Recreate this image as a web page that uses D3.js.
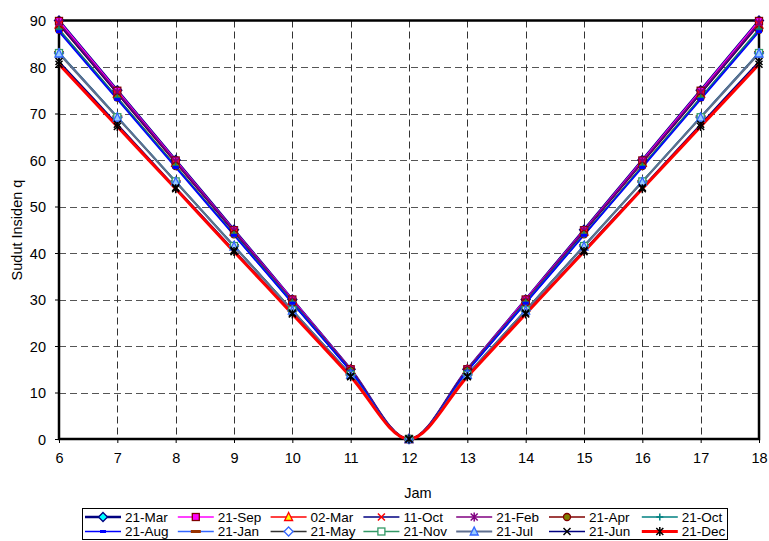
<!DOCTYPE html>
<html><head><meta charset="utf-8">
<script src="https://cdn.jsdelivr.net/npm/d3@7"></script>
<style>
html,body{margin:0;padding:0;background:#fff;}
svg{display:block;font-family:"Liberation Sans",Arial,sans-serif;}
</style></head>
<body><svg id="c" width="769" height="541"></svg>
<script>
const hours = [6,7,8,9,10,11,12,13,14,15,16,17,18];
const yTicks = [0,10,20,30,40,50,60,70,80,90];
const seriesNames = ["21-Mar","21-Sep","02-Mar","11-Oct","21-Feb","21-Apr","21-Oct","21-Aug","21-Jan","21-May","21-Nov","21-Jul","21-Jun","21-Dec"];
const mar21 = [90,75,60,45,30,15,0,15,30,45,60,75,90];
const sep21 = [89.9,74.9,59.9,44.9,30,15,0,15,30,44.9,59.9,74.9,89.9];
const mar02 = [89.1,74.3,59.4,44.6,29.7,14.9,0,14.9,29.7,44.6,59.4,74.3,89.1];
const oct11 = [89.2,74.3,59.5,44.6,29.7,14.9,0,14.9,29.7,44.6,59.5,74.3,89.2];
const feb21 = [89.5,74.6,59.7,44.8,29.8,14.9,0,14.9,29.8,44.8,59.7,74.6,89.5];
const apr21 = [88.0,73.4,58.7,44.0,29.3,14.7,0,14.7,29.3,44.0,58.7,73.4,88.0];
const oct21 = [88.1,73.4,58.7,44.0,29.4,14.7,0,14.7,29.4,44.0,58.7,73.4,88.1];
const aug21 = [87.6,73.0,58.4,43.8,29.2,14.6,0,14.6,29.2,43.8,58.4,73.0,87.6];
const jan21 = [83.1,69.3,55.4,41.6,27.7,13.9,0,13.9,27.7,41.6,55.4,69.3,83.1];
const may21 = [83.0,69.2,55.3,41.5,27.7,13.8,0,13.8,27.7,41.5,55.3,69.2,83.0];
const nov21 = [83.0,69.2,55.4,41.5,27.7,13.8,0,13.8,27.7,41.5,55.4,69.2,83.0];
const jul21 = [82.9,69.1,55.3,41.4,27.6,13.8,0,13.8,27.6,41.4,55.3,69.1,82.9];
const jun21 = [81.2,67.7,54.1,40.6,27.1,13.5,0,13.5,27.1,40.6,54.1,67.7,81.2];
const dec21 = [80.6,67.2,53.8,40.3,26.9,13.4,0,13.4,26.9,40.3,53.8,67.2,80.6];
const seriesValues = [mar21,sep21,mar02,oct11,feb21,apr21,oct21,aug21,jan21,may21,nov21,jul21,jun21,dec21];

const styles = [
  {c:"#000080",w:2.6,m:"diamond",f:"#00ffff",s:"#000080"},
  {c:"#ff00ff",w:1.6,m:"square",f:"#ff00ff",s:"#800000"},
  {c:"#ff0000",w:1.6,m:"triangle",f:"#ffff00",s:"#ff0000"},
  {c:"#000080",w:1.6,m:"x",f:"none",s:"#ff0000"},
  {c:"#800080",w:1.6,m:"star",f:"none",s:"#800080"},
  {c:"#800000",w:1.6,m:"circle",f:"#808000",s:"#800000"},
  {c:"#008080",w:1.6,m:"plus",f:"none",s:"#008080"},
  {c:"#0000ff",w:1.6,m:"dash",f:"#0000ff",s:"#0000ff",dw:6},
  {c:"#3366ff",w:1.6,m:"dash",f:"#993300",s:"#993300",dw:10},
  {c:"#333333",w:1.6,m:"diamond",f:"#ffffff",s:"#3366ff"},
  {c:"#339966",w:1.6,m:"square",f:"#ffffff",s:"#339966"},
  {c:"#5f6f90",w:2,m:"triangle",f:"#99ccff",s:"#3366ff"},
  {c:"#000080",w:1.6,m:"x",f:"none",s:"#000000"},
  {c:"#ff0000",w:3,m:"star",f:"none",s:"#000000"}
];

const svg = d3.select("#c");
const L=59, R=759, T=20.5, B=439;
const x = d3.scaleLinear().domain([6,18]).range([L,R]);
const y = d3.scaleLinear().domain([0,90]).range([B,T]);

// gridlines
const g = svg.append("g");
g.selectAll(".hg").data(yTicks.filter(v=>v>0&&v<90)).enter().append("line")
  .attr("x1",L).attr("x2",R).attr("y1",d=>Math.round(y(d))+0.5).attr("y2",d=>Math.round(y(d))+0.5)
  .attr("stroke","#555").attr("stroke-width",1).attr("stroke-dasharray","7,4");
g.selectAll(".vg").data(hours.filter(v=>v>6&&v<18)).enter().append("line")
  .attr("y1",T).attr("y2",B).attr("x1",d=>Math.round(x(d))+0.5).attr("x2",d=>Math.round(x(d))+0.5)
  .attr("stroke","#333").attr("stroke-width",1).attr("stroke-dasharray","7,4");

// axes
const xAxis = d3.axisBottom(x).tickValues(hours).tickSize(4).tickPadding(10).tickFormat(d3.format("d"));
const yAxis = d3.axisLeft(y).tickValues(yTicks).tickSize(4).tickPadding(9);
const xa = svg.append("g").attr("transform",`translate(0,${B})`).call(xAxis);
const ya = svg.append("g").attr("transform",`translate(${L},0)`).call(yAxis);
[xa,ya].forEach(a=>{
  a.select(".domain").remove();
  a.selectAll(".tick line").attr("stroke","#000").attr("stroke-width",1);
  a.selectAll("text").attr("font-size",14.5).attr("fill","#000").attr("font-family","Liberation Sans, Arial, sans-serif");
});
ya.selectAll("text").attr("dy","0.35em");

// plot border
svg.append("rect").attr("x",L).attr("y",T).attr("width",R-L).attr("height",B-T)
  .attr("fill","none").attr("stroke","#000").attr("stroke-width",2.5);

// markers
function marker(sel, st, cx, cy, size){
  const r = size/2;
  const gg = sel.append("g").attr("transform",`translate(${cx},${cy})`);
  switch(st.m){
    case "diamond": gg.append("path").attr("d",`M0,${-r-1}L${r+1},0L0,${r+1}L${-r-1},0Z`).attr("fill",st.f).attr("stroke",st.s).attr("stroke-width",1.3); break;
    case "square": gg.append("rect").attr("x",-r).attr("y",-r).attr("width",2*r).attr("height",2*r).attr("fill",st.f).attr("stroke",st.s).attr("stroke-width",1.3); break;
    case "triangle": gg.append("path").attr("d",`M0,${-r-1}L${r+0.5},${r}L${-r-0.5},${r}Z`).attr("fill",st.f).attr("stroke",st.s).attr("stroke-width",1.3); break;
    case "circle": gg.append("circle").attr("r",r).attr("fill",st.f).attr("stroke",st.s).attr("stroke-width",1.3); break;
    case "x": gg.append("path").attr("d",`M${-r},${-r}L${r},${r}M${-r},${r}L${r},${-r}`).attr("stroke",st.s).attr("stroke-width",1.5); break;
    case "plus": gg.append("path").attr("d",`M${-r},0L${r},0M0,${-r}L0,${r}`).attr("stroke",st.s).attr("stroke-width",1.5); break;
    case "star": gg.append("path").attr("d",`M${-r},${-r}L${r},${r}M${-r},${r}L${r},${-r}M0,${-r-1}L0,${r+1}`).attr("stroke",st.s).attr("stroke-width",1.5); break;
    case "dash": gg.append("rect").attr("x",-st.dw/2).attr("y",-1.5).attr("width",st.dw).attr("height",3).attr("fill",st.f); break;
  }
}

// lines
const line = d3.line().x((d,i)=>x(hours[i])).y(d=>y(d)).curve(d3.curveCardinal.tension(0));
const plot = svg.append("g");
seriesValues.forEach((vals,k)=>{
  plot.append("path").datum(vals).attr("d",line).attr("fill","none")
    .attr("stroke",styles[k].c).attr("stroke-width",styles[k].w).attr("stroke-linejoin","round");
});
seriesValues.forEach((vals,k)=>{
  vals.forEach((v,i)=>marker(plot, styles[k], x(hours[i]), y(v), 7));
});

// axis titles
svg.append("text").attr("x",418).attr("y",498).attr("text-anchor","middle").attr("font-size",14.5).text("Jam");
svg.append("text").attr("transform","translate(22,230) rotate(-90)").attr("text-anchor","middle").attr("font-size",14.5).text("Sudut Insiden q");

// legend
const lg = svg.append("g");
lg.append("rect").attr("x",82.5).attr("y",508.5).attr("width",645).attr("height",31).attr("fill","#fff").attr("stroke","#000").attr("stroke-width",1);
seriesNames.forEach((name,k)=>{
  const col = k%7, row = Math.floor(k/7);
  const x0 = 85 + col*92.8, yy = 517 + row*14.5;
  lg.append("line").attr("x1",x0).attr("x2",x0+36).attr("y1",yy).attr("y2",yy)
    .attr("stroke",styles[k].c).attr("stroke-width",styles[k].w);
  marker(lg, styles[k], x0+18, yy, 7);
  lg.append("text").attr("x",x0+40).attr("y",yy).attr("dy","0.36em").attr("font-size",13.5)
    .attr("textLength", null).text(name);
});
</script></body></html>
